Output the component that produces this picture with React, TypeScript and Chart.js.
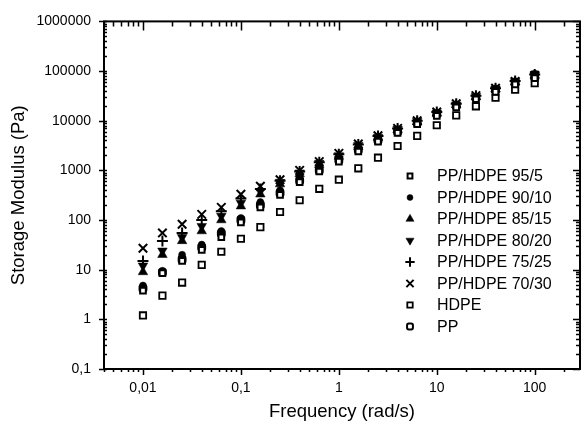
import React, { useEffect, useRef } from 'react';
import { Chart, registerables } from 'chart.js';
import { drawPoint } from 'chart.js/helpers';

Chart.register(...registerables);

const frequencies = [0.01, 0.0158, 0.0251, 0.0398, 0.0631, 0.1, 0.158, 0.251, 0.398, 0.631, 1, 1.58, 2.51, 3.98, 6.31, 10, 15.8, 25.1, 39.8, 63.1, 100];

const pphdpe95_5 = [3.8, 8.5, 15, 25, 45, 90, 180, 320, 580, 950, 1500, 2400, 3800, 5700, 8500, 12500, 18500, 27000, 38000, 54000, 72000];
const pphdpe90_10 = [4.8, 9.5, 20, 32, 60, 110, 230, 400, 700, 1100, 1700, 2700, 4200, 6200, 9000, 13500, 20000, 29000, 42000, 59000, 80000];
const pphdpe85_15 = [9, 20, 38, 60, 100, 190, 330, 530, 850, 1300, 1900, 3000, 4500, 6500, 9500, 14000, 21000, 30000, 43000, 60000, 82000];
const pphdpe80_20 = [12, 24, 45, 75, 120, 220, 380, 580, 900, 1400, 2000, 3200, 4700, 6800, 9800, 14500, 21000, 31000, 44000, 62000, 84000];
const pphdpe75_25 = [15, 38, 55, 100, 150, 270, 420, 620, 950, 1450, 2100, 3300, 4900, 7000, 10000, 15000, 22000, 32000, 45000, 63000, 85000];
const pphdpe70_30 = [27, 55, 82, 130, 180, 330, 480, 650, 1000, 1500, 2200, 3400, 5000, 7000, 10000, 15000, 22000, 32000, 45000, 62000, 82000];
const hdpe = [1.2, 3.0, 5.5, 12.5, 23, 42, 72, 145, 250, 425, 650, 1100, 1800, 3100, 4950, 8100, 12800, 19500, 29000, 42000, 57000];
const pp = [4.2, 8.8, 16, 28, 54, 100, 200, 350, 620, 1000, 1600, 2600, 4000, 6000, 9000, 13500, 20000, 29000, 42000, 60000, 85000];

const seriesNames = ['PP/HDPE 95/5', 'PP/HDPE 90/10', 'PP/HDPE 85/15', 'PP/HDPE 80/20', 'PP/HDPE 75/25', 'PP/HDPE 70/30', 'HDPE', 'PP'];
const seriesValues = [pphdpe95_5, pphdpe90_10, pphdpe85_15, pphdpe80_20, pphdpe75_25, pphdpe70_30, hdpe, pp];

const xTickValues = [0.01, 0.1, 1, 10, 100];
const xTickLabels = ['0,01', '0,1', '1', '10', '100'];
const yTickValues = [0.1, 1, 10, 100, 1000, 10000, 100000, 1000000];
const yTickLabels = ['0,1', '1', '10', '100', '1000', '10000', '100000', '1000000'];

const FONT = "Arial, 'Liberation Sans', Helvetica, sans-serif";

const markerStyles = [
  { pointStyle: 'rect', radius: 4, borderWidth: 2, fill: '#fff', rotation: 0 },
  { pointStyle: 'circle', radius: 3.5, borderWidth: 0.5, fill: '#000', rotation: 0 },
  { pointStyle: 'triangle', radius: 5.5, borderWidth: 0.5, fill: '#000', rotation: 0 },
  { pointStyle: 'triangle', radius: 5.5, borderWidth: 0.5, fill: '#000', rotation: 180 },
  { pointStyle: 'cross', radius: 5.5, borderWidth: 2, fill: '#000', rotation: 0 },
  { pointStyle: 'crossRot', radius: 6, borderWidth: 2, fill: '#000', rotation: 0 },
  { pointStyle: 'rect', radius: 4.5, borderWidth: 1.8, fill: '#fff', rotation: 0 },
  { pointStyle: 'rectRounded', radius: 4, borderWidth: 2, fill: '#fff', rotation: 0 },
];

const frameTicks = {
  id: 'frameTicks',
  afterDraw(chart: any) {
    const { ctx, chartArea, scales } = chart;
    const { left, right, top, bottom } = chartArea;
    const x = scales.x;
    const y = scales.y;
    ctx.save();
    ctx.strokeStyle = '#000';
    ctx.lineWidth = 1.5;
    ctx.beginPath();
    for (let d = -4; d <= 3; d++) {
      for (let k = 1; k <= 9; k++) {
        const v = k * Math.pow(10, d);
        if (v < x.min || v > x.max) continue;
        const px = Math.round(x.getPixelForValue(v)) + 0.5;
        const major = k === 1;
        ctx.moveTo(px, bottom);
        ctx.lineTo(px, bottom + (major ? 6 : 3));
        ctx.moveTo(px, top);
        ctx.lineTo(px, top + (major ? 9 : 5));
      }
    }
    for (let d = -2; d <= 6; d++) {
      for (let k = 1; k <= 9; k++) {
        const v = k * Math.pow(10, d);
        if (v < y.min || v > y.max) continue;
        const py = Math.round(y.getPixelForValue(v)) + 0.5;
        const major = k === 1;
        ctx.moveTo(left - (major ? 5 : 0), py);
        ctx.lineTo(left + 3, py);
        ctx.moveTo(right, py);
        ctx.lineTo(right - (major ? 7 : 4), py);
      }
    }
    ctx.stroke();
    ctx.lineWidth = 2;
    ctx.strokeRect(left, top, right - left, bottom - top);
    ctx.restore();
  },
};

const legendPlugin = {
  id: 'insideLegend',
  afterDraw(chart: any) {
    const { ctx } = chart;
    ctx.save();
    ctx.font = `16px ${FONT}`;
    ctx.textBaseline = 'middle';
    ctx.textAlign = 'left';
    seriesNames.forEach((name, i) => {
      const yPos = 176 + i * 21.5;
      const st = markerStyles[i];
      ctx.fillStyle = st.fill;
      ctx.strokeStyle = '#000';
      ctx.lineWidth = st.borderWidth;
      drawPoint(ctx, { pointStyle: st.pointStyle as any, radius: st.radius * 0.85, rotation: st.rotation, borderWidth: st.borderWidth }, 410, yPos);
      ctx.fillStyle = '#000';
      ctx.fillText(name, 437, yPos + 1);
    });
    ctx.restore();
  },
};

export default function App() {
  const canvasRef = useRef<HTMLCanvasElement | null>(null);

  useEffect(() => {
    if (!canvasRef.current) return;
    const datasets = seriesNames.map((name, i) => {
      const st = markerStyles[i];
      return {
        label: name,
        data: frequencies.map((f, j) => ({ x: f, y: seriesValues[i][j] })),
        showLine: false,
        pointStyle: st.pointStyle as any,
        pointRadius: st.radius,
        pointRotation: st.rotation,
        pointBorderWidth: st.borderWidth,
        pointBackgroundColor: st.fill,
        pointBorderColor: '#000',
        backgroundColor: st.fill,
        borderColor: '#000',
      };
    });

    const chart = new Chart(canvasRef.current, {
      type: 'scatter',
      data: { datasets },
      plugins: [frameTicks, legendPlugin],
      options: {
        responsive: false,
        animation: false,
        layout: { padding: { left: 0, right: 3, top: 18, bottom: 0 } },
        plugins: { legend: { display: false }, tooltip: { enabled: false } },
        scales: {
          x: {
            type: 'logarithmic',
            position: 'bottom',
            min: 0.004,
            max: 290,
            grid: { display: false, drawTicks: false },
            border: { display: false },
            afterBuildTicks: (s: any) => {
              s.ticks = xTickValues.map((v) => ({ value: v }));
            },
            afterFit: (s: any) => {
              s.height = 56;
            },
            ticks: {
              autoSkip: false,
              maxRotation: 0,
              padding: 11,
              color: '#000',
              font: { family: FONT, size: 14 },
              callback: (value: any) => {
                const idx = xTickValues.findIndex((v) => Math.abs(v - Number(value)) < v * 1e-6);
                return idx >= 0 ? xTickLabels[idx] : '';
              },
            },
            title: {
              display: true,
              text: 'Frequency (rad/s)',
              color: '#000',
              font: { family: FONT, size: 18.5 },
              padding: { top: 0, bottom: 2 },
            },
          },
          y: {
            type: 'logarithmic',
            position: 'left',
            min: 0.1,
            max: 1000000,
            grid: { display: false, drawTicks: false },
            border: { display: false },
            afterBuildTicks: (s: any) => {
              s.ticks = yTickValues.map((v) => ({ value: v }));
            },
            afterFit: (s: any) => {
              s.width = 104;
            },
            ticks: {
              autoSkip: false,
              padding: 13,
              color: '#000',
              font: { family: FONT, size: 14 },
              callback: (value: any) => {
                const idx = yTickValues.findIndex((v) => Math.abs(v - Number(value)) < v * 1e-6);
                return idx >= 0 ? yTickLabels[idx] : '';
              },
            },
            title: {
              display: true,
              text: 'Storage Modulus (Pa)',
              color: '#000',
              font: { family: FONT, size: 18.5 },
              padding: { top: 8, bottom: 0 },
            },
          },
        },
      },
    });
    return () => chart.destroy();
  }, []);

  return (
    <div style={{ position: 'absolute', left: 0, top: 0, width: 588, height: 425, background: '#fff' }}>
      <canvas ref={canvasRef} width={588} height={425} />
    </div>
  );
}
